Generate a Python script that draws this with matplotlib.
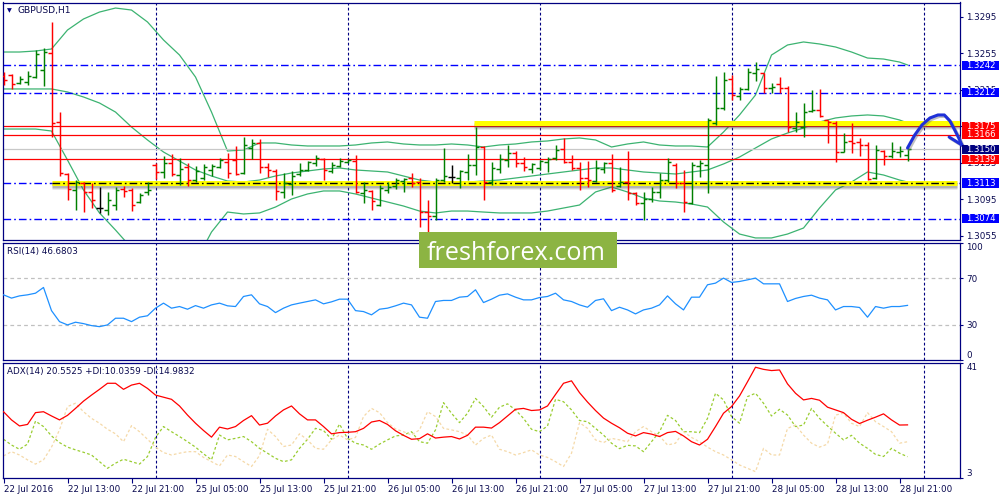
import numpy as np
import matplotlib
matplotlib.use("Agg")
import matplotlib.pyplot as plt
import matplotlib.transforms as mtrans
from matplotlib.patches import Rectangle

# ---------------- data ----------------
opens = [1.32303, 1.32314, 1.32226, 1.32237, 1.32292, 1.32369, 1.32555, 1.31799, 1.31229, 1.31054,
         1.31130, 1.31032, 1.30856, 1.30834, 1.30889, 1.31065, 1.31054, 1.30922, 1.31032, 1.31328,
         1.31251, 1.31350, 1.31218, 1.31306, 1.31163, 1.31185, 1.31273, 1.31306, 1.31360, 1.31382,
         1.31240, 1.31514, 1.31569, 1.31306, 1.31262, 1.31032, 1.31119, 1.31229, 1.31273, 1.31350,
         1.31393, 1.31262, 1.31317, 1.31360, 1.31371, 1.31021, 1.31043, 1.30889, 1.31054, 1.31097,
         1.31152, 1.31185, 1.31141, 1.30812, 1.30769, 1.31163, 1.31196, 1.31185, 1.31251, 1.31328,
         1.31525, 1.31141, 1.31284, 1.31382, 1.31459, 1.31350, 1.31284, 1.31295, 1.31360, 1.31404,
         1.31503, 1.31360, 1.31295, 1.31185, 1.31152, 1.31284, 1.31350, 1.31097, 1.31141, 1.31021,
         1.30911, 1.30955, 1.31032, 1.31163, 1.31328, 1.31130, 1.30911, 1.31317, 1.31328, 1.31788,
         1.31952, 1.32270, 1.32084, 1.32161, 1.32336, 1.32336, 1.32172, 1.32215, 1.32172, 1.31733,
         1.31744, 1.31919, 1.31930, 1.31821, 1.31788, 1.31470, 1.31591, 1.31580, 1.31547, 1.31185,
         1.31481, 1.31426, 1.31470, 1.31437]
highs = [1.32347, 1.32325, 1.32303, 1.32358, 1.32588, 1.32610, 1.32895, 1.31908, 1.31240, 1.31163,
         1.31141, 1.31130, 1.31086, 1.31032, 1.31086, 1.31097, 1.31076, 1.31021, 1.31141, 1.31350,
         1.31426, 1.31448, 1.31404, 1.31350, 1.31317, 1.31339, 1.31339, 1.31404, 1.31459, 1.31536,
         1.31634, 1.31613, 1.31613, 1.31350, 1.31284, 1.31240, 1.31262, 1.31350, 1.31371, 1.31437,
         1.31404, 1.31360, 1.31404, 1.31393, 1.31437, 1.31141, 1.31054, 1.31108, 1.31141, 1.31185,
         1.31185, 1.31240, 1.31185, 1.30944, 1.31185, 1.31514, 1.31328, 1.31273, 1.31448, 1.31744,
         1.31536, 1.31360, 1.31448, 1.31547, 1.31481, 1.31415, 1.31350, 1.31382, 1.31415, 1.31547,
         1.31624, 1.31437, 1.31360, 1.31371, 1.31382, 1.31360, 1.31448, 1.31306, 1.31481, 1.31032,
         1.31032, 1.31086, 1.31240, 1.31404, 1.31350, 1.31273, 1.31360, 1.31382, 1.31843, 1.32303,
         1.32347, 1.32314, 1.32182, 1.32391, 1.32456, 1.32336, 1.32226, 1.32292, 1.32193, 1.31908,
         1.32007, 1.32150, 1.32161, 1.31821, 1.31810, 1.31678, 1.31788, 1.31624, 1.31580, 1.31547,
         1.31492, 1.31580, 1.31536, 1.31525]
lows = [1.32204, 1.32161, 1.32215, 1.32204, 1.32281, 1.32193, 1.31634, 1.31207, 1.30944, 1.30834,
        1.30812, 1.30856, 1.30802, 1.30780, 1.30834, 1.30977, 1.30823, 1.30911, 1.30999, 1.31174,
        1.31185, 1.31207, 1.31108, 1.31097, 1.31141, 1.31163, 1.31207, 1.31295, 1.31185, 1.31218,
        1.31229, 1.31393, 1.31240, 1.31196, 1.30944, 1.30966, 1.30999, 1.31207, 1.31262, 1.31317,
        1.31163, 1.31240, 1.31306, 1.31350, 1.31021, 1.30911, 1.30834, 1.30878, 1.31021, 1.31065,
        1.31032, 1.31086, 1.30648, 1.30593, 1.30725, 1.31141, 1.31130, 1.31076, 1.31163, 1.31218,
        1.30944, 1.31108, 1.31240, 1.31306, 1.31306, 1.31262, 1.31240, 1.31273, 1.31251, 1.31382,
        1.31350, 1.31273, 1.31054, 1.31086, 1.31141, 1.31240, 1.31032, 1.31086, 1.30944, 1.30889,
        1.30725, 1.30922, 1.30966, 1.31141, 1.31076, 1.30812, 1.30900, 1.31196, 1.31021, 1.31766,
        1.31930, 1.32040, 1.32040, 1.32150, 1.32248, 1.32117, 1.32117, 1.32117, 1.31689, 1.31689,
        1.31634, 1.31908, 1.31854, 1.31569, 1.31360, 1.31470, 1.31459, 1.31426, 1.31163, 1.31174,
        1.31328, 1.31404, 1.31415, 1.31371]
closes = [1.32259, 1.32215, 1.32270, 1.32303, 1.32544, 1.32566, 1.31788, 1.31240, 1.31065, 1.31141,
          1.31032, 1.30944, 1.30856, 1.30944, 1.31054, 1.31043, 1.30889, 1.30999, 1.31054, 1.31251,
          1.31350, 1.31229, 1.31284, 1.31163, 1.31262, 1.31306, 1.31317, 1.31382, 1.31240, 1.31229,
          1.31547, 1.31569, 1.31306, 1.31273, 1.31043, 1.31130, 1.31207, 1.31273, 1.31360, 1.31404,
          1.31273, 1.31328, 1.31371, 1.31382, 1.31032, 1.31054, 1.30933, 1.31076, 1.31086, 1.31163,
          1.31174, 1.31130, 1.30812, 1.30769, 1.31163, 1.31207, 1.31196, 1.31262, 1.31328, 1.31525,
          1.31141, 1.31295, 1.31393, 1.31459, 1.31350, 1.31306, 1.31339, 1.31371, 1.31393, 1.31492,
          1.31360, 1.31295, 1.31185, 1.31163, 1.31295, 1.31350, 1.31054, 1.31141, 1.31021, 1.30911,
          1.30955, 1.31032, 1.31163, 1.31360, 1.31130, 1.30922, 1.31328, 1.31350, 1.31821, 1.31952,
          1.32259, 1.32095, 1.32161, 1.32347, 1.32380, 1.32172, 1.32182, 1.32172, 1.31744, 1.31799,
          1.31908, 1.31930, 1.31865, 1.31799, 1.31470, 1.31580, 1.31569, 1.31547, 1.31174, 1.31492,
          1.31426, 1.31481, 1.31481, 1.31503]

band_bars = list(range(0, 113, 2)) + [113]
bb_upper = [1.32566, 1.32566, 1.32577, 1.32599, 1.32807, 1.32928, 1.33004, 1.33048, 1.33026, 1.32895,
            1.32698, 1.32533, 1.32292, 1.31908, 1.31481, 1.31492, 1.31569, 1.31569, 1.31547, 1.31536,
            1.31536, 1.31536, 1.31547, 1.31569, 1.31580, 1.31558, 1.31547, 1.31547, 1.31558, 1.31547,
            1.31525, 1.31547, 1.31558, 1.31580, 1.31591, 1.31613, 1.31624, 1.31602, 1.31525, 1.31558,
            1.31580, 1.31547, 1.31536, 1.31536, 1.31525, 1.31689, 1.31876, 1.32095, 1.32533, 1.32643,
            1.32676, 1.32654, 1.32621, 1.32566, 1.32500, 1.32489, 1.32456, 1.32424]
bb_middle = [1.32161, 1.32161, 1.32161, 1.32161, 1.32128, 1.32073, 1.32007, 1.31908, 1.31744, 1.31602,
             1.31470, 1.31371, 1.31273, 1.31207, 1.31152, 1.31141, 1.31163, 1.31207, 1.31240, 1.31262,
             1.31284, 1.31295, 1.31273, 1.31262, 1.31251, 1.31207, 1.31163, 1.31141, 1.31130, 1.31141,
             1.31152, 1.31163, 1.31185, 1.31207, 1.31229, 1.31251, 1.31273, 1.31295, 1.31295, 1.31273,
             1.31251, 1.31240, 1.31229, 1.31251, 1.31273, 1.31339, 1.31415, 1.31514, 1.31613, 1.31678,
             1.31733, 1.31799, 1.31843, 1.31865, 1.31876, 1.31865, 1.31821, 1.31788]
bb_lower = [1.31722, 1.31722, 1.31722, 1.31700, 1.31382, 1.31054, 1.30802, 1.30615, 1.30418, 1.30308,
            1.30232, 1.30199, 1.30264, 1.30593, 1.30812, 1.30791, 1.30802, 1.30867, 1.30955, 1.31010,
            1.31043, 1.31043, 1.31010, 1.30966, 1.30922, 1.30878, 1.30823, 1.30802, 1.30823, 1.30823,
            1.30812, 1.30802, 1.30802, 1.30802, 1.30823, 1.30856, 1.30889, 1.31032, 1.31086, 1.31032,
            1.30966, 1.30933, 1.30922, 1.30900, 1.30867, 1.30703, 1.30571, 1.30528, 1.30528, 1.30571,
            1.30637, 1.30856, 1.31054, 1.31141, 1.31251, 1.31218, 1.31163, 1.31141]

rsi = [55.7, 52.9, 54.8, 55.7, 57.1, 62.0, 42.2, 32.8, 30.0, 32.3,
       31.1, 29.4, 28.5, 30.0, 35.7, 35.7, 32.8, 36.6, 37.8, 44.3,
       48.6, 44.3, 45.7, 43.4, 46.5, 44.3, 47.1, 48.6, 46.3, 45.7,
       54.3, 55.7, 48.0, 45.7, 40.5, 44.3, 47.1, 48.6, 50.0, 51.4,
       48.0, 49.7, 52.0, 52.0, 42.2, 41.4, 38.6, 43.4, 44.3, 46.3,
       48.6, 47.1, 36.6, 35.7, 50.0, 50.9, 50.9, 53.7, 54.3, 60.0,
       49.1, 52.0, 55.4, 56.5, 53.7, 51.4, 51.4, 53.4, 54.3, 57.1,
       51.4, 50.0, 47.1, 45.1, 50.9, 52.3, 42.2, 45.1, 42.8, 39.4,
       42.8, 44.3, 47.1, 54.8, 48.0, 42.8, 53.7, 53.7, 64.3, 65.7,
       70.0, 66.3, 67.1, 68.5, 70.0, 65.1, 65.1, 65.1, 50.0, 52.6,
       54.3, 55.4, 52.9, 51.4, 42.8, 45.7, 45.7, 44.9, 36.6, 45.7,
       44.3, 45.7, 45.7, 46.68]

adx = [24.9, 22.2, 20.2, 20.7, 24.6, 24.9, 23.5, 22.2, 23.7, 26.0,
       28.4, 30.4, 32.3, 34.3, 34.3, 32.3, 33.7, 34.3, 32.6, 30.4,
       29.7, 29.0, 26.8, 23.8, 21.1, 18.7, 16.5, 19.8, 19.2, 20.0,
       22.0, 23.6, 20.5, 21.1, 23.5, 25.5, 26.8, 24.2, 22.2, 22.2,
       20.0, 17.6, 18.0, 18.1, 18.3, 19.4, 21.5, 22.0, 20.7, 18.6,
       17.1, 15.8, 16.0, 17.6, 16.2, 16.5, 16.7, 15.9, 17.1, 19.8,
       19.8, 19.5, 21.3, 23.5, 25.7, 26.0, 25.3, 25.5, 26.8, 30.6,
       34.3, 35.1, 31.2, 28.1, 25.3, 22.8, 21.1, 19.6, 17.8, 16.9,
       18.0, 17.5, 16.7, 18.0, 18.4, 16.9, 15.0, 13.9, 15.8, 20.0,
       24.4, 26.6, 30.1, 34.8, 39.6, 38.9, 38.5, 38.7, 34.1, 31.0,
       28.8, 29.3, 28.7, 26.4, 25.5, 24.6, 22.4, 21.0, 22.1, 23.1,
       24.2, 22.2, 20.5, 20.55]
plus_di = [15.8, 13.9, 12.5, 14.2, 21.8, 20.0, 16.9, 14.7, 13.2, 12.3,
           11.5, 10.6, 8.4, 6.2, 7.9, 9.2, 8.4, 7.6, 10.1, 16.4,
           20.0, 18.3, 16.7, 15.0, 13.2, 11.0, 9.0, 17.2, 15.6, 16.1,
           16.7, 15.0, 12.8, 11.2, 9.5, 8.4, 9.0, 12.8, 15.8, 19.4,
           18.7, 15.8, 20.8, 16.1, 14.5, 13.9, 12.5, 14.2, 15.6, 16.9,
           17.2, 18.3, 15.0, 14.5, 18.9, 27.9, 24.4, 21.3, 24.4, 29.3,
           26.6, 23.1, 26.4, 27.5, 25.5, 22.7, 19.1, 18.3, 20.2, 29.0,
           28.2, 25.5, 22.0, 21.6, 19.4, 17.2, 14.5, 12.7, 13.8, 13.6,
           11.7, 15.0, 18.3, 23.7, 22.0, 18.3, 18.3, 18.0, 22.7, 31.0,
           28.8, 23.3, 21.1, 29.9, 31.0, 27.7, 23.5, 25.7, 23.8, 20.0,
           20.5, 26.0, 22.7, 20.2, 17.8, 15.6, 17.1, 14.5, 12.8, 10.8,
           10.1, 12.8, 11.2, 10.04]
minus_di = [10.3, 11.7, 10.6, 9.0, 7.6, 9.0, 13.2, 18.9, 26.6, 27.7,
            24.9, 22.7, 21.1, 19.1, 17.6, 15.0, 20.3, 18.3, 15.8, 13.2,
            11.4, 10.6, 11.2, 11.7, 11.7, 9.8, 8.4, 7.0, 10.6, 10.1,
            8.4, 6.8, 10.4, 19.1, 16.7, 13.4, 13.9, 17.6, 15.6, 12.8,
            12.5, 15.6, 17.2, 15.6, 16.4, 23.3, 26.0, 24.6, 21.3, 19.2,
            18.3, 17.2, 18.9, 24.9, 23.3, 19.4, 18.9, 18.3, 17.2, 13.9,
            16.1, 17.2, 12.5, 11.7, 10.6, 11.4, 12.3, 10.6, 9.8, 8.4,
            6.8, 11.2, 21.3, 19.4, 15.6, 14.7, 16.1, 15.6, 15.0, 18.3,
            20.0, 18.3, 16.9, 13.9, 14.5, 18.3, 16.4, 15.0, 13.2, 11.7,
            10.6, 9.0, 7.3, 6.2, 5.1, 12.8, 10.6, 10.6, 19.4, 20.5,
            17.2, 14.5, 13.2, 14.2, 23.8, 24.4, 21.1, 20.0, 24.6, 21.6,
            20.0, 18.3, 14.5, 14.98]

time_tick_bars = list(range(0, 113, 8))
time_labels = ["22 Jul 2016", "22 Jul 13:00", "22 Jul 21:00", "25 Jul 05:00", "25 Jul 13:00",
               "25 Jul 21:00", "26 Jul 05:00", "26 Jul 13:00", "26 Jul 21:00", "27 Jul 05:00",
               "27 Jul 13:00", "27 Jul 21:00", "28 Jul 05:00", "28 Jul 13:00", "28 Jul 21:00"]
day_separators = [19, 43, 67, 91, 115]

price_ticks = [1.3055, 1.3095, 1.3135, 1.3175, 1.3215, 1.3255, 1.3295]
blue_levels = [1.3242, 1.3212, 1.3113, 1.3074]
red_levels = [1.3175, 1.3166, 1.3139]
bid_price = 1.3150
yellow_zones = [(1.3113, 6.0, 119.2), (1.31785, 58.8, 119.6)]   # level, first bar, last bar
price_labels = [(1.3242, '#0000FF'), (1.3212, '#0000FF'), (1.3175, '#FF0000'), (1.3166, '#FF0000'),
                (1.3150, '#000080'), (1.3139, '#FF0000'), (1.3113, '#0000FF'), (1.3074, '#0000FF')]
forecast_bars = [113.0, 113.9, 114.8, 115.8, 116.8, 117.6, 118.3, 118.9, 119.4, 119.8]
forecast_prices = [1.31514, 1.31656, 1.31766, 1.31843, 1.31876, 1.31876, 1.31810, 1.31711, 1.31624, 1.31547]
forecast_barb = ([118.2, 119.8], [1.31634, 1.31547])

# ---------------- layout ----------------
W, H = 1000, 500
NAVY = '#000080'
TXT = '#0a0a50'
plt.rcParams['font.family'] = ['DejaVu Sans']

fig = plt.figure(figsize=(10, 5), dpi=100)
fig.patch.set_facecolor('white')


def rect(l, t, r, b):
    return [l / W, 1 - b / H, (r - l) / W, (b - t) / H]


ax = fig.add_axes(rect(2.5, 2.5, 960, 240))
ax_rsi = fig.add_axes(rect(2.5, 243, 960, 360))
ax_adx = fig.add_axes(rect(2.5, 363, 960, 478))

XLIM = (-0.125, 119.56)
PRICE_LIM = (1.305056, 1.331086)

for a in (ax, ax_rsi, ax_adx):
    a.set_xlim(*XLIM)
    for s in a.spines.values():
        s.set_color(NAVY)
        s.set_linewidth(0.9)
    a.yaxis.tick_right()
    a.tick_params(axis='y', direction='out', length=2.5, width=0.8, colors=NAVY,
                  labelsize=6.3, pad=2.2, labelcolor=TXT)
    for d in day_separators:
        a.axvline(d, color=NAVY, lw=0.8, ls=(0, (2.5, 2.0)), zorder=1)

ax.set_xticks([])
ax_rsi.set_xticks([])

# ---------------- main panel ----------------
ax.set_ylim(*PRICE_LIM)
ax.set_yticks(price_ticks)
ax.set_yticklabels([f"{v:.4f}" for v in price_ticks])

bc = '#3CB371'
ax.plot(band_bars, bb_upper, color=bc, lw=0.9, zorder=2)
ax.plot(band_bars, bb_middle, color=bc, lw=0.9, zorder=2)
ax.plot(band_bars, bb_lower, color=bc, lw=0.9, zorder=2)

ax.axhline(bid_price, color='#C8C8C8', lw=0.9, zorder=2)
for lv in blue_levels:
    ax.axhline(lv, color='#0000FF', lw=1.0, ls=(0, (5.5, 2.2, 1.2, 2.2)), zorder=2)
for lv in red_levels:
    ax.axhline(lv, color='#FF0000', lw=0.9, zorder=2)

px_price = (PRICE_LIM[1] - PRICE_LIM[0]) / 237.5
for lv, start, end in yellow_zones:
    for off, al in [(3.5, 0.12), (2.5, 0.18), (1.5, 0.22)]:
        ax.hlines(lv - off * px_price, start, end, color='#555555', lw=3.6, alpha=al, zorder=2.6)
    ax.hlines(lv, start, end, color='#FFFF00', lw=3.6, zorder=2.7)
ax.hlines(1.3113, yellow_zones[0][1], yellow_zones[0][2], color='black', lw=1.0,
          linestyles=[(0, (5.5, 2.2, 1.2, 2.2))], zorder=2.8)

xb = np.arange(len(opens))
o = np.array(opens); c = np.array(closes)
cols = np.where(c > o, '#008000', np.where(c < o, '#FF0000', '#000000'))
ax.vlines(xb, lows, highs, colors=cols, lw=1.05, zorder=4)
ax.hlines(opens, xb - 0.4, xb, colors=cols, lw=1.05, zorder=4)
ax.hlines(closes, xb, xb + 0.4, colors=cols, lw=1.05, zorder=4)

# forecast arrow
shadow = mtrans.offset_copy(ax.transData, fig=fig, x=1.5, y=-1.5, units='dots')
for tr, colr, al in [(shadow, '#777777', 0.45), (ax.transData, '#1f30d8', 1.0)]:
    ax.plot(forecast_bars, forecast_prices, color=colr, alpha=al, lw=2.2, transform=tr,
            clip_on=False, solid_capstyle='round', solid_joinstyle='round', zorder=6)
    ax.plot(forecast_barb[0], forecast_barb[1], color=colr, alpha=al, lw=2.2, transform=tr,
            clip_on=False, solid_capstyle='round', zorder=6)

# price labels on the right
blend = mtrans.blended_transform_factory(fig.transFigure, ax.transData)
box_h = 9.5 * px_price
for val, colr in price_labels:
    ax.add_patch(Rectangle((961.5 / W, val - box_h / 2), 37 / W, box_h, transform=blend,
                           facecolor=colr, edgecolor='none', clip_on=False, zorder=7))
    ax.text(966 / W, val, f"{val:.4f}", transform=blend, color='white', fontsize=6.1,
            va='center', ha='left', clip_on=False, zorder=8)

fig.text(7 / W, 1 - 10.5 / H, '\u25BC', fontsize=4.5, color=NAVY, va='center', ha='left')
fig.text(18 / W, 1 - 10 / H, 'GBPUSD,H1', fontsize=6.6, color=TXT, va='center', ha='left')

# ---------------- RSI ----------------
ax_rsi.set_ylim(0, 100)
ax_rsi.plot(xb, rsi, color='#1E90FF', lw=0.9, zorder=3)
for lv in (70, 30):
    ax_rsi.axhline(lv, color='#C0C0C0', lw=0.9, ls=(0, (3, 2.5)), zorder=1)
ax_rsi.set_yticks([0, 30, 70, 100])
ax_rsi.set_yticklabels(['0', '30', '70', '100'])
labs = ax_rsi.get_yticklabels()
labs[0].set_va('bottom')
labs[3].set_va('top')
fig.text(7 / W, 1 - 251.7 / H, 'RSI(14) 46.6803', fontsize=6.3, color=TXT, va='center', ha='left')

# ---------------- ADX ----------------
ax_adx.set_ylim(3, 41)
ax_adx.plot(xb, plus_di, color='#9ACD32', lw=0.9, ls=(0, (2.2, 1.8)), zorder=2)
ax_adx.plot(xb, minus_di, color='#F5D9A8', lw=0.9, ls=(0, (2.2, 1.8)), zorder=2)
ax_adx.plot(xb, adx, color='#FF0000', lw=0.9, zorder=3)
ax_adx.set_yticks([3, 41])
ax_adx.set_yticklabels(['3', '41'])
labs = ax_adx.get_yticklabels()
labs[0].set_va('bottom')
labs[1].set_va('top')
fig.text(7 / W, 1 - 371.7 / H, 'ADX(14) 20.5525 +DI:10.0359 -DI:14.9832', fontsize=6.3,
         color=TXT, va='center', ha='left')

ax_adx.set_xticks(time_tick_bars)
ax_adx.set_xticklabels(time_labels)
ax_adx.tick_params(axis='x', direction='out', length=3.5, width=0.8, colors=NAVY,
                   labelsize=6.3, pad=1.5, labelcolor=TXT)
for t in ax_adx.get_xticklabels():
    t.set_ha('left')

# ---------------- watermark ----------------
fig.patches.append(Rectangle((419 / W, 1 - 268 / H), 198 / W, 36 / H, transform=fig.transFigure,
                             facecolor='#8CB443', edgecolor='none', zorder=10))
fig.text(427 / W, 1 - 260 / H, 'freshforex.com', fontsize=18.2, color='white',
         family=['Open Sans', 'DejaVu Sans'], ha='left', va='baseline', zorder=11)

fig.savefig('out.png', dpi=100)
